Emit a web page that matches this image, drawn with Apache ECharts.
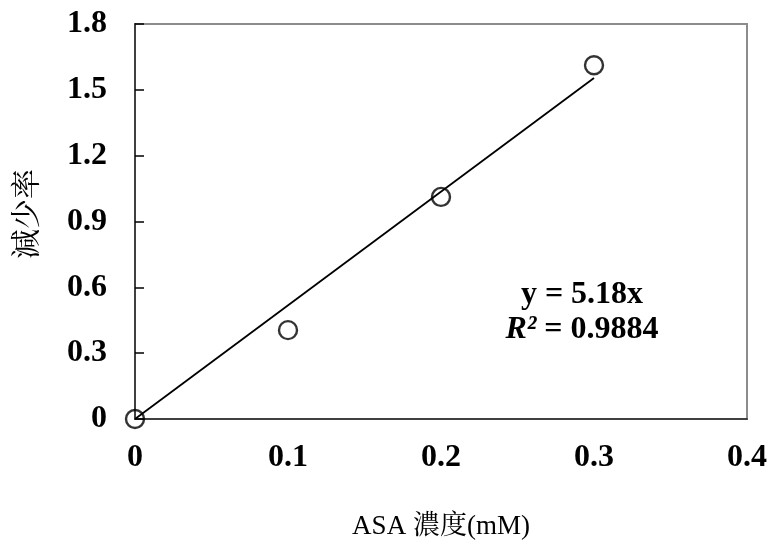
<!DOCTYPE html>
<html><head><meta charset="utf-8">
<script src="https://cdn.jsdelivr.net/npm/echarts@6/dist/echarts.min.js"></script>
<style>html,body{margin:0;padding:0;background:#fff}#c{width:773px;height:548px}</style>
</head><body><div id="c"></div>
<script>
const xValues = [0, 0.1, 0.2, 0.3];
const yValues = [0, 0.405, 1.012, 1.612];
const slope = 5.18;
const rSquared = '0.9884';
const trendX = [0, 0.3];
const xTicks = [0, 0.1, 0.2, 0.3, 0.4];
const yTicks = [0, 0.3, 0.6, 0.9, 1.2, 1.5, 1.8];
const xTitle = 'ASA 濃度(mM)';
const yTitle = '減少率';

const serif = '"Times New Roman","Liberation Serif","Noto Serif CJK TC","Noto Sans CJK TC",serif';
const chart = echarts.init(document.getElementById('c'));
chart.setOption({
  animation: false,
  grid: {left: 135, right: 26, top: 24, bottom: 129, show: true, borderColor: '#8c8c8c', borderWidth: 2, backgroundColor: '#fff'},
  xAxis: {
    type: 'value', min: 0, max: 0.4, interval: 0.1,
    name: xTitle, nameLocation: 'middle', nameGap: 94,
    nameTextStyle: {fontFamily: serif, fontSize: 27, color: '#000'},
    axisLine: {show: true, lineStyle: {color: '#404040', width: 2}},
    axisTick: {show: false},
    splitLine: {show: false},
    axisLabel: {fontFamily: serif, fontWeight: 'bold', fontSize: 32, color: '#000', margin: 23,
      formatter: v => { const s = String(+v.toFixed(1)); return xTicks.includes(+s) ? s : ''; }}
  },
  yAxis: {
    type: 'value', min: 0, max: 1.8, interval: 0.3,
    axisLine: {show: true, lineStyle: {color: '#404040', width: 2}},
    axisTick: {show: true, inside: true, length: 9, lineStyle: {color: '#000', width: 1.5}},
    splitLine: {show: false},
    axisLabel: {fontFamily: serif, fontWeight: 'bold', fontSize: 32, color: '#000', margin: 28,
      formatter: v => { const s = String(+v.toFixed(1)); return yTicks.includes(+s) ? s : ''; }}
  },
  series: [
    {type: 'line', data: trendX.map(x => [x, slope * x]), symbol: 'none',
     lineStyle: {color: '#000', width: 1.8}, z: 2},
    {type: 'scatter', data: xValues.map((x, i) => [x, yValues[i]]), symbol: 'circle', symbolSize: 18,
     itemStyle: {color: 'rgba(255,255,255,0)', borderColor: '#000', borderWidth: 2.4}, z: 3}
  ],
  graphic: [
    {
      type: 'text', x: 28, y: 214, rotation: Math.PI / 2,
      style: {text: yTitle, fontFamily: serif, fontSize: 30, fill: '#000', align: 'center', verticalAlign: 'middle'}
    },
    {
      type: 'text', x: 582, y: 312,
      style: {
        text: '{a|y = ' + slope.toFixed(2) + 'x}\n{i|R²}{a| = ' + rSquared + '}',
        align: 'center', verticalAlign: 'middle',
        rich: {
          a: {fontFamily: serif, fontWeight: 'bold', fontSize: 32, fill: '#000', lineHeight: 35},
          i: {fontFamily: serif, fontWeight: 'bold', fontStyle: 'italic', fontSize: 32, fill: '#000', lineHeight: 35}
        }
      }
    }
  ]
});
</script></body></html>
